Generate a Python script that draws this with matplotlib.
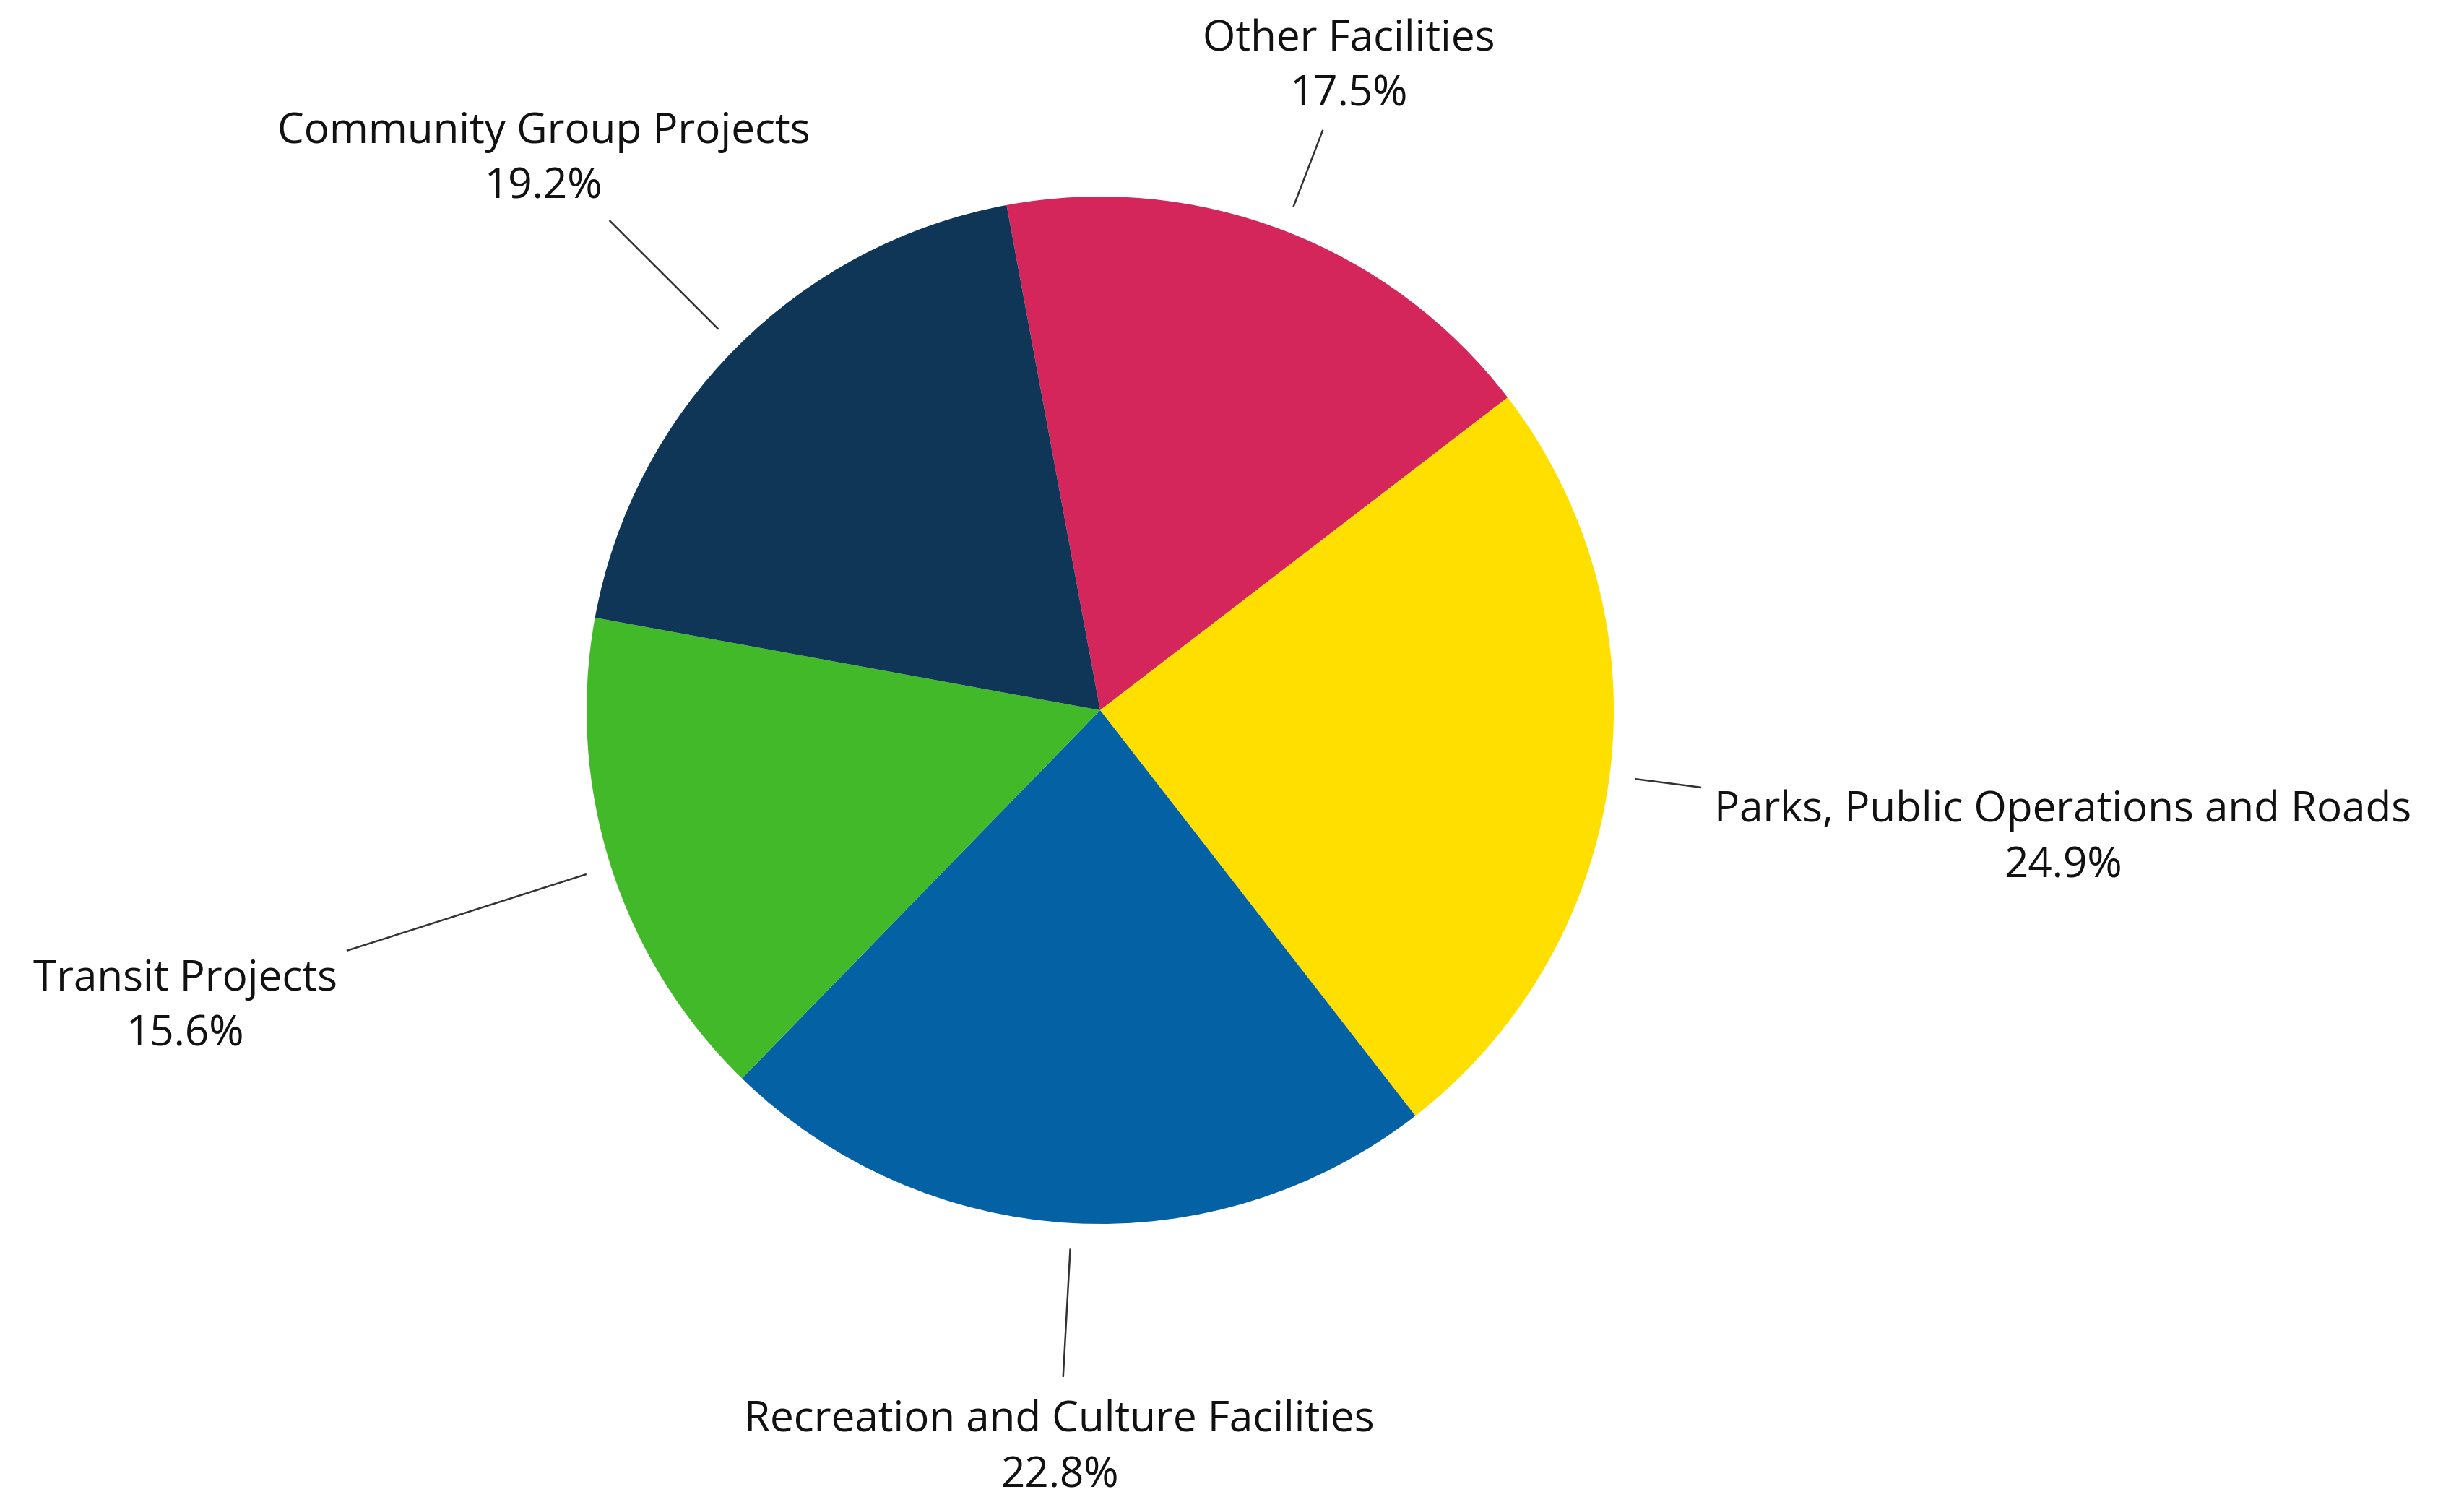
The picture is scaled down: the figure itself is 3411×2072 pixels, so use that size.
import numpy as np
import matplotlib
matplotlib.use("Agg")
import matplotlib.pyplot as plt

categories = ["Other Facilities", "Parks, Public Operations and Roads",
              "Recreation and Culture Facilities", "Transit Projects",
              "Community Group Projects"]
values = [17.5, 24.9, 22.8, 15.6, 19.2]
pct_labels = ["17.5%", "24.9%", "22.8%", "15.6%", "19.2%"]
colors = ["#D4265A", "#FFDF00", "#0461A4", "#42B928", "#0F3557"]

# label layout (radius factors along each wedge's mid-angle)
line_outer = [1.21, 1.18, 1.30, 1.54, 1.35]
text_radius = [1.35, 1.89, 1.43, 1.87, 1.53]

plt.rcParams['font.family'] = ['Open Sans', 'DejaVu Sans']

W, H, DPI = 3411, 2072, 200
fig = plt.figure(figsize=(W / DPI, H / DPI), dpi=DPI)
ax = fig.add_axes([0, 0, 1, 1])
Rpx = 711.0
cx, cy = 1523.0, 983.0
xlim = (-cx / Rpx, (W - cx) / Rpx)
ylim = (-(H - cy) / Rpx, cy / Rpx)

wedges, _ = ax.pie(values, colors=colors, startangle=100.5, counterclock=False,
                   radius=1.0, center=(0, 0), wedgeprops=dict(linewidth=0))
ax.set_xlim(*xlim)
ax.set_ylim(*ylim)
ax.set_aspect('equal', adjustable='box')
ax.axis('off')

for w, cat, pct, lo, tr in zip(wedges, categories, pct_labels, line_outer, text_radius):
    mid = np.deg2rad((w.theta1 + w.theta2) / 2)
    c, s = np.cos(mid), np.sin(mid)
    ax.plot([1.05 * c, lo * c], [1.05 * s, lo * s], color="#333333", lw=0.9,
            solid_capstyle='butt')
    ax.text(tr * c, tr * s - 0.009, cat + "\n" + pct, ha='center', va='center',
            fontsize=21, color="#111111", linespacing=1.41, multialignment='center')

fig.savefig("out.png", dpi=DPI, facecolor="white")
